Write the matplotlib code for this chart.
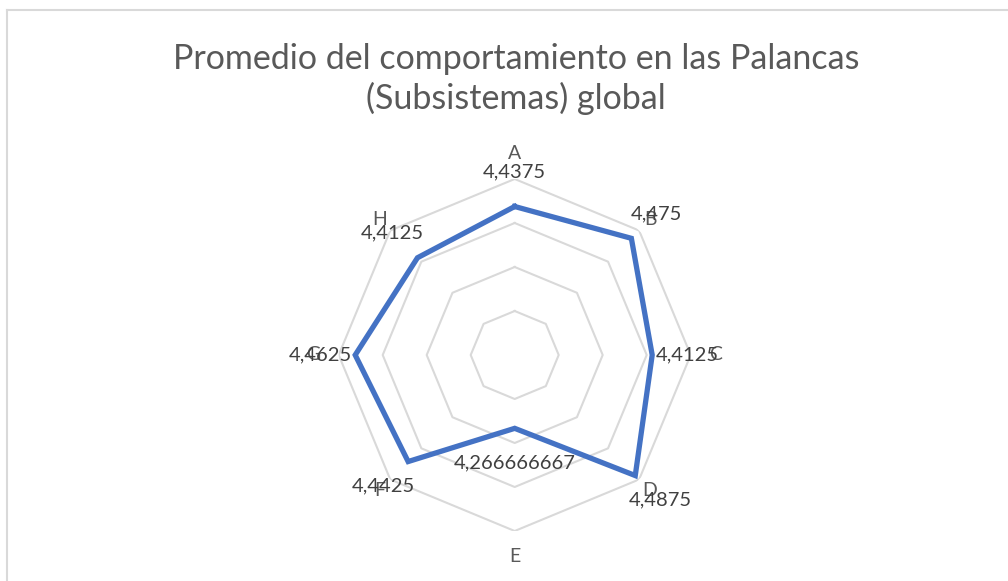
import numpy as np
import matplotlib.pyplot as plt
from matplotlib.lines import Line2D

# datos
categorias = ["A", "B", "C", "D", "E", "F", "G", "H"]
valores = [4.4375, 4.475, 4.4125, 4.4875, 4.266666667, 4.4425, 4.4625, 4.4125]
etiquetas = ["4,4375", "4,475", "4,4125", "4,4875", "4,266666667", "4,4425", "4,4625", "4,4125"]
anillos = [4.2, 4.3, 4.4, 4.5]
r_min, r_max = 4.1, 4.5

plt.rcParams["font.family"] = ["Lato", "DejaVu Sans"]

fig = plt.figure(figsize=(10.08, 5.81), dpi=100)

# marco del área del gráfico
fig.add_artist(Line2D([7 / 1008, 1], [1 - 10 / 581, 1 - 10 / 581], color="#d9d9d9", lw=1.5))
fig.add_artist(Line2D([7 / 1008, 7 / 1008], [0, 1 - 10 / 581], color="#d9d9d9", lw=1.5))

fig.text(0.512, 1 - 79 / 581, "Promedio del comportamiento en las Palancas\n(Subsistemas) global",
         ha="center", va="center", fontsize=24.5, color="#595959", linespacing=1.25)

cx, cy, rad = 514.7, 355, 176
ax = fig.add_axes([(cx - rad) / 1008, (581 - cy - rad) / 581, 2 * rad / 1008, 2 * rad / 581],
                  projection="polar")
ax.set_theta_offset(np.pi / 2)
ax.set_theta_direction(-1)
ax.set_ylim(r_min, r_max)
ax.axis("off")

n = len(categorias)
ang = np.linspace(0, 2 * np.pi, n, endpoint=False)
ang_c = np.append(ang, ang[0])

for r in anillos:
    ax.plot(ang_c, [r] * (n + 1), color="#d9d9d9", lw=1.5, zorder=1)

ax.plot(ang_c, valores + valores[:1], color="#4472c4", lw=3.8, zorder=3,
        solid_joinstyle="miter")

for i, (a, cat) in enumerate(zip(ang, categorias)):
    r_lab = 4.557 if i % 2 == 0 else 4.535
    ax.text(a, r_lab, cat, ha="center", va="center", fontsize=14,
            color="#595959", clip_on=False)

for a, v, t in zip(ang, valores, etiquetas):
    dx, dy = np.sin(a) * 35, np.cos(a) * 35
    ax.annotate(t, (a, v), xytext=(dx, dy), textcoords="offset pixels",
                ha="center", va="center", fontsize=14.5, color="#404040",
                annotation_clip=False, zorder=4)

fig.savefig("out.png", dpi=100)
